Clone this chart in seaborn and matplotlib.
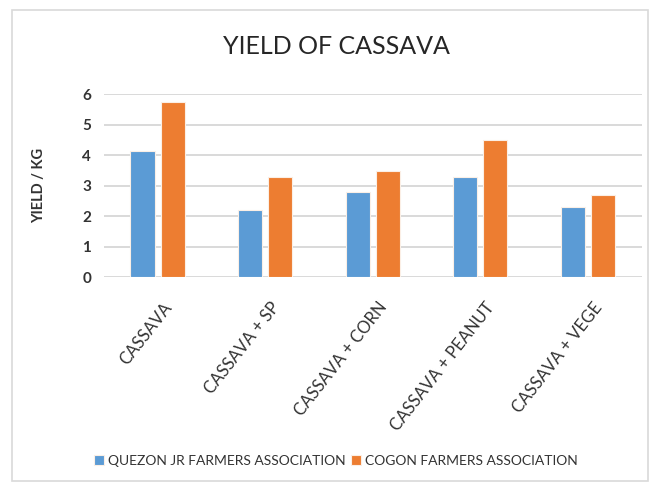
import matplotlib
matplotlib.use("Agg")
import matplotlib.pyplot as plt
from matplotlib.patches import Rectangle
from matplotlib.transforms import ScaledTranslation
import seaborn as sns
import pandas as pd

# ── Data ─────────────────────────────────────────────────────────────────────
crops  = ["CASSAVA", "CASSAVA + SP", "CASSAVA + CORN", "CASSAVA + PEANUT", "CASSAVA + VEGE"]
quezon = [4.15, 2.2, 2.8, 3.3, 2.3]
cogon  = [5.75, 3.3, 3.5, 4.5, 2.7]
groups = ["QUEZON JR FARMERS ASSOCIATION", "COGON FARMERS ASSOCIATION"]

df = pd.DataFrame({
    "crop":  crops * 2,
    "yield": quezon + cogon,
    "group": [groups[0]] * len(crops) + [groups[1]] * len(crops),
})

# ── Style ────────────────────────────────────────────────────────────────────
sns.set_style("white")
plt.rcParams["font.family"] = ["Lato", "DejaVu Sans"]
TXT = "#333333"

fig = plt.figure(figsize=(6.65, 4.87), dpi=100)
ax = fig.add_axes([0.156, 0.431, 0.809, 0.375])

sns.barplot(data=df, x="crop", y="yield", hue="group",
            palette=["#5B9BD5", "#ED7D31"], saturation=1, width=0.56, gap=0.2,
            edgecolor="#FBEFE6", linewidth=0.8, ax=ax, legend=True)

ax.set_ylim(0, 6)
ax.set_yticks(range(0, 7))
ax.yaxis.grid(True, color="#D9D9D9", linewidth=1.4)
ax.set_axisbelow(True)
for s in ax.spines.values():
    s.set_visible(False)
ax.tick_params(axis="both", length=0, colors=TXT)
ax.tick_params(axis="y", labelsize=11, pad=9)
for t in ax.get_yticklabels():
    t.set_fontweight("bold")
ax.tick_params(axis="x", labelsize=12, pad=13)
shift = ScaledTranslation(11 / 100, -9 / 100, fig.dpi_scale_trans)
for t in ax.get_xticklabels():
    t.set_rotation(52)
    t.set_ha("right")
    t.set_va("center")
    t.set_rotation_mode("anchor")
    t.set_transform(t.get_transform() + shift)

ax.set_xlabel("")
ax.set_ylabel("YIELD / KG", fontsize=10.5, fontweight="bold", color=TXT, labelpad=26)
fig.text(0.506, 0.905, "YIELD OF CASSAVA", ha="center", va="center",
         fontsize=18, color="#262626")

handles, labels = ax.get_legend_handles_labels()
ax.legend_.remove()
fig.legend(handles, labels, loc="center", bbox_to_anchor=(0.505, 0.053), ncol=2,
           frameon=False, fontsize=10, labelcolor=TXT,
           handlelength=0.7, handleheight=0.7, handletextpad=0.3, columnspacing=0.4)

# light frame around the chart
fig.patches.append(Rectangle((0.018, 0.012), 0.957, 0.968, transform=fig.transFigure,
                             fill=False, edgecolor="#D9D9D9", linewidth=1.2))

fig.savefig("out.png", dpi=100, facecolor="white")
